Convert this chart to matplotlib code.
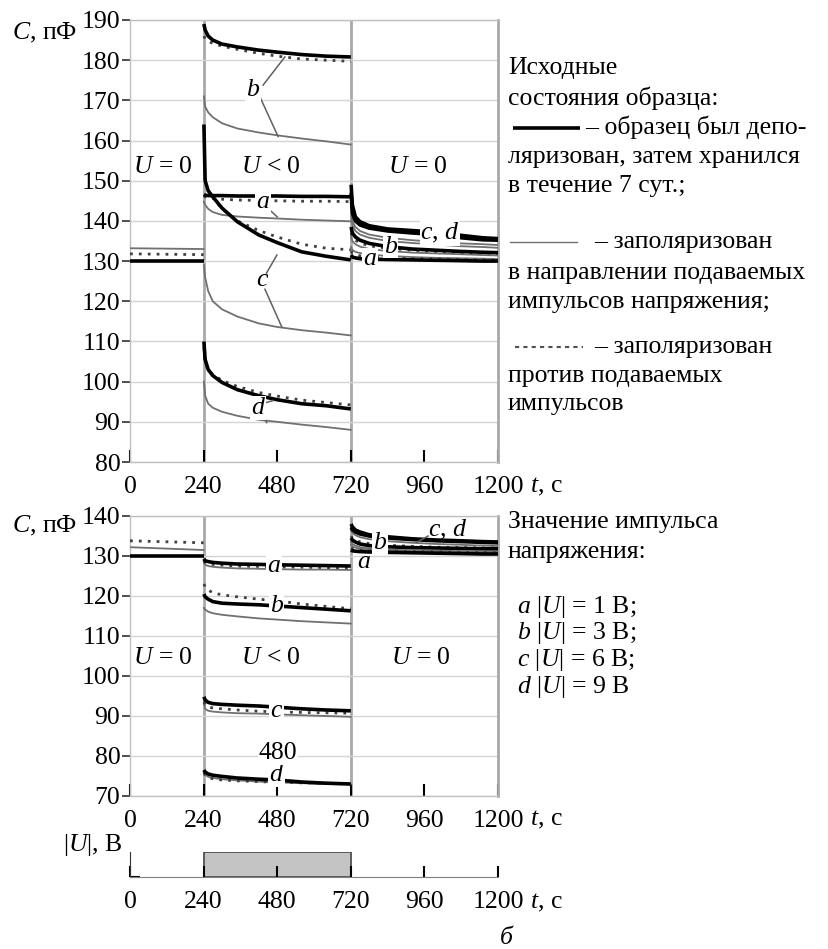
import matplotlib
matplotlib.use('Agg')
import matplotlib.pyplot as plt
from matplotlib.lines import Line2D

plt.rcParams['font.family'] = ['Liberation Serif', 'DejaVu Serif']
plt.rcParams['mathtext.fontset'] = 'custom'
plt.rcParams['mathtext.it'] = 'Liberation Serif:italic'
plt.rcParams['mathtext.rm'] = 'Liberation Serif'

'''------DATA------'''
t_pre = [0, 240]
t_on = [241, 245, 255, 270, 300, 350, 420, 480, 560, 640, 720]
t_off = [721, 725, 735, 750, 780, 840, 920, 1000, 1080, 1150, 1200]
x_ticks = [0, 240, 480, 720, 960, 1200]

# top panel (a): before pulse
top_pre = {'black': [130, 130], 'gray': [133.2, 133.0], 'dot': [131.8, 131.6]}

# top panel: during pulse (U < 0)
top_on_black = {
    'a': [146.6, 146.4, 146.3, 146.3, 146.3, 146.2, 146.2, 146.2, 146.1, 146.1, 146.0],
    'b': [189, 187.5, 186, 185, 184, 183.3, 182.5, 182, 181.4, 181, 180.8],
    'c': [164, 150, 147.5, 146, 143.2, 139.8, 136.5, 134.6, 132.3, 131.2, 130.3],
    'd': [110, 105.5, 103, 101.5, 99.8, 98, 96.5, 95.5, 94.5, 94, 93.2],
}
top_on_dot = {
    'a': [146.2, 146, 145.8, 145.6, 145.4, 145.2, 145.1, 145, 144.9, 144.9, 144.8],
    'b': [186, 185.3, 184.7, 184.2, 183.5, 182.7, 181.7, 181, 180.3, 180, 179.7],
    'c': [146.5, 146.3, 146.1, 145.8, 143, 140, 137.6, 136, 134.2, 133.2, 132.8],
    'd': [108.5, 105, 103, 101.8, 100.3, 98.8, 97.3, 96.4, 95.4, 94.8, 94.2],
}
top_on_gray = {
    'a': [144.8, 144, 143, 142.2, 141.5, 141.1, 140.8, 140.6, 140.3, 140.1, 139.9],
    'b': [171, 168.5, 167, 165.8, 164.3, 163, 162, 161.3, 160.5, 159.8, 159],
    'c': [129, 126, 122.5, 120, 118, 116.2, 114.5, 113.6, 112.8, 112.2, 111.5],
    'd': [100, 96.5, 94.5, 93.5, 92.5, 91.5, 90.5, 90, 89.3, 88.7, 88],
}
# top panel: after pulse (U = 0)
top_off_black = {
    'a': [131.5, 131, 130.8, 130.6, 130.5, 130.4, 130.3, 130.2, 130.1, 130, 130],
    'b': [138.5, 137, 136, 135.2, 134.4, 133.6, 133, 132.7, 132.4, 132.2, 132.1],
    'c': [149, 144, 141, 139.8, 138.8, 138, 137.6, 137.2, 136.4, 135.8, 135.6],
    'd': [147, 142, 140, 139, 138.2, 137.5, 137, 136.6, 135.8, 135.3, 135.2],
}
top_off_dot = {
    'a': [132.5, 132, 131.6, 131.3, 131, 130.8, 130.6, 130.5, 130.4, 130.3, 130.2],
    'b': [137, 136, 135.2, 134.5, 133.8, 133.2, 132.7, 132.4, 132.2, 132, 131.9],
}
top_off_gray = {
    'a': [133.5, 132.8, 132.3, 132, 131.6, 131.3, 131, 130.8, 130.7, 130.6, 130.5],
    'b': [136, 135, 134.2, 133.6, 133, 132.5, 132.1, 131.9, 131.7, 131.5, 131.4],
    'c': [143.5, 140, 138.5, 137.5, 136.6, 135.8, 135.2, 134.8, 134.4, 134.2, 134],
    'd': [141.5, 139, 137.5, 136.6, 135.8, 135, 134.5, 134.1, 133.7, 133.5, 133.3],
}

# bottom panel (б)
bot_pre = {'black': [130, 130], 'gray': [132.2, 131.5], 'dot': [133.8, 133.3]}
bot_on_black = {
    'a': [129.3, 128.8, 128.6, 128.4, 128.2, 128, 127.9, 127.8, 127.7, 127.6, 127.5],
    'b': [120.5, 119.8, 119.2, 118.6, 118.2, 118, 117.8, 117.5, 117.1, 116.7, 116.3],
    'c': [94.8, 94, 93.4, 93.1, 92.9, 92.7, 92.5, 92.2, 91.8, 91.5, 91.3],
    'd': [76.5, 76, 75.5, 75.2, 74.9, 74.5, 74.2, 74, 73.5, 73.2, 73],
}
bot_on_dot = {
    'a': [128.8, 128.4, 128.1, 127.9, 127.7, 127.5, 127.4, 127.3, 127.2, 127.1, 127],
    'b': [123, 122.3, 121.5, 120.8, 120.3, 119.8, 119.2, 118.8, 118, 117.4, 116.8],
    'c': [93.5, 92.8, 92.3, 92, 91.8, 91.5, 91.2, 91, 90.9, 90.8, 90.7],
    'd': [75.8, 75.2, 74.7, 74.3, 74, 73.8, 73.6, 73.4, 73.3, 73.2, 73.1],
}
bot_on_gray = {
    'a': [128.3, 127.8, 127.5, 127.3, 127.1, 126.9, 126.8, 126.7, 126.6, 126.6, 126.5],
    'b': [117, 116.6, 116.1, 115.7, 115.3, 114.9, 114.4, 114.1, 113.7, 113.4, 113.1],
    'c': [93.5, 91.8, 91.3, 91.1, 90.9, 90.7, 90.6, 90.4, 90.2, 90, 89.8],
    'd': [76, 75.3, 74.8, 74.5, 74.2, 73.9, 73.6, 73.4, 73.2, 73, 72.9],
}
bot_off_black = {
    'a': [131.5, 131.3, 131.2, 131.1, 131, 130.9, 130.8, 130.7, 130.6, 130.5, 130.5],
    'b': [134.5, 134, 133.5, 133, 132.6, 132.3, 132.1, 132, 131.9, 131.8, 131.8],
    'c': [138, 137.3, 136.5, 136, 135.3, 134.8, 134.3, 134, 133.8, 133.6, 133.5],
    'd': [137.2, 136.6, 136, 135.5, 135, 134.5, 134.1, 133.8, 133.6, 133.4, 133.3],
}
bot_off_dot = {
    'a': [132, 131.8, 131.6, 131.4, 131.3, 131.2, 131.1, 131, 130.9, 130.9, 130.8],
    'b': [135, 134.5, 134, 133.5, 133.1, 132.7, 132.4, 132.2, 132.1, 132, 132],
}
bot_off_gray = {
    'a': [132.8, 132.4, 132.1, 131.8, 131.6, 131.4, 131.2, 131.1, 131, 130.9, 130.9],
    'b': [133.5, 133, 132.6, 132.2, 131.9, 131.6, 131.4, 131.3, 131.2, 131.1, 131.1],
    'c': [136.5, 135.8, 135.2, 134.7, 134.2, 133.7, 133.3, 133, 132.8, 132.6, 132.5],
}

pulse_t = [240, 720]
pulse_h = 1

'''------STYLE------'''
FS = 18.5
W, H = 829, 949
def fx(px):
    return px / W
def fy(py):
    return 1 - py / H

black_kw = dict(color='black', lw=2.6, solid_capstyle='butt')
gray_kw = dict(color='#707070', lw=1.3)
dot_kw = dict(color='#404040', lw=2.0, linestyle=(0, (1, 2.2)))
lbl_box = dict(facecolor='white', edgecolor='none', pad=0.5)

fig = plt.figure(figsize=(W / 100, H / 100), dpi=100)


def setup_axes(ax, ylo, yhi):
    ax.set_xlim(0, 1200)
    ax.set_ylim(ylo, yhi)
    ax.set_yticks(range(ylo, yhi + 1, 10))
    ax.set_xticks(x_ticks)
    ax.grid(axis='y', color='#d4d4d4', lw=1.0)
    for s in ['left', 'top', 'bottom']:
        ax.spines[s].set_color('#c0c0c0')
        ax.spines[s].set_linewidth(1.0)
    ax.spines['right'].set_color('#a8a8a8')
    ax.spines['right'].set_linewidth(2.0)
    for xv in [240, 720]:
        ax.axvline(xv, color='#a8a8a8', lw=2.0, zorder=1)
    ax.tick_params(axis='y', direction='out', length=6, width=1.2, color='#303030',
                   labelsize=FS, pad=1)
    ax.tick_params(axis='x', direction='in', length=9, width=1.5, color='black',
                   labelsize=FS, pad=10)


def draw_curves(ax, pre, on_black, on_dot, on_gray, off_black, off_dot, off_gray):
    ax.plot(t_pre, pre['gray'], zorder=3, **gray_kw)
    ax.plot(t_pre, pre['dot'], zorder=3, **dot_kw)
    ax.plot(t_pre, pre['black'], zorder=4, **black_kw)
    for k in on_gray:
        ax.plot(t_on, on_gray[k], zorder=3, **gray_kw)
    for k in on_dot:
        ax.plot(t_on, on_dot[k], zorder=3, **dot_kw)
    for k in on_black:
        ax.plot(t_on, on_black[k], zorder=4, **black_kw)
    for k in off_gray:
        ax.plot(t_off, off_gray[k], zorder=3, **gray_kw)
    for k in off_dot:
        ax.plot(t_off, off_dot[k], zorder=3, **dot_kw)
    for k in off_black:
        ax.plot(t_off, off_black[k], zorder=4, **black_kw)


'''------TOP PANEL------'''
ax1 = fig.add_axes([fx(130), fy(462), fx(498) - fx(130), fy(20) - fy(462)])
setup_axes(ax1, 80, 190)
draw_curves(ax1, top_pre, top_on_black, top_on_dot, top_on_gray,
            top_off_black, top_off_dot, top_off_gray)

ax1.text(108, 153.5, '$U$ = 0', fontsize=FS, ha='center', va='center', bbox=lbl_box, zorder=6)
ax1.text(460, 153.5, '$U$ < 0', fontsize=FS, ha='center', va='center', zorder=6)
ax1.text(940, 153.5, '$U$ = 0', fontsize=FS, ha='center', va='center', zorder=6)

# labels with leader lines
ax1.plot([434, 505], [173.8, 180.8], color='#606060', lw=1.1, zorder=5)
ax1.plot([424, 483], [170.8, 161], color='#606060', lw=1.1, zorder=5)
ax1.text(401, 172.6, '$b$', fontsize=FS, ha='center', va='center', bbox=lbl_box, zorder=6)
ax1.plot([445, 480], [143.5, 141], color='#606060', lw=1.1, zorder=5)
ax1.text(434, 144.8, '$a$', fontsize=FS, ha='center', va='center', bbox=lbl_box, zorder=6)
ax1.plot([445, 479], [127, 131.5], color='#606060', lw=1.1, zorder=5)
ax1.plot([440, 495], [123, 113.6], color='#606060', lw=1.1, zorder=5)
ax1.text(432, 125.3, '$c$', fontsize=FS, ha='center', va='center', zorder=6)
ax1.plot([430, 467], [94.5, 95.3], color='#606060', lw=1.1, zorder=5)
ax1.plot([425, 446], [92, 89.8], color='#606060', lw=1.1, zorder=5)
ax1.text(418, 93.5, '$d$', fontsize=FS, ha='center', va='center', bbox=lbl_box, zorder=6)
ax1.text(1011, 137, '$c$, $d$', fontsize=FS, ha='center', va='center', bbox=lbl_box, zorder=6)
ax1.text(850, 133.6, '$b$', fontsize=FS, ha='center', va='center', bbox=lbl_box, zorder=6)
ax1.text(783, 130.4, '$a$', fontsize=FS, ha='center', va='center', bbox=lbl_box, zorder=6)

fig.text(fx(12), fy(33), '$C$, пФ', fontsize=FS, ha='left', va='center')
fig.text(fx(530), fy(487), '$t$, с', fontsize=FS, ha='left', va='center')

'''------BOTTOM PANEL------'''
ax2 = fig.add_axes([fx(130), fy(796), fx(498) - fx(130), fy(516) - fy(796)])
setup_axes(ax2, 70, 140)
draw_curves(ax2, bot_pre, bot_on_black, bot_on_dot, bot_on_gray,
            bot_off_black, bot_off_dot, bot_off_gray)

ax2.text(108, 104.5, '$U$ = 0', fontsize=FS, ha='center', va='center', bbox=lbl_box, zorder=6)
ax2.text(460, 104.5, '$U$ < 0', fontsize=FS, ha='center', va='center', zorder=6)
ax2.text(950, 104.5, '$U$ = 0', fontsize=FS, ha='center', va='center', zorder=6)
ax2.text(470, 127.5, '$a$', fontsize=FS, ha='center', va='center', bbox=lbl_box, zorder=6)
ax2.text(478, 117.5, '$b$', fontsize=FS, ha='center', va='center', bbox=lbl_box, zorder=6)
ax2.text(478, 91.3, '$c$', fontsize=FS, ha='center', va='center', bbox=lbl_box, zorder=6)
ax2.text(478, 75.2, '$d$', fontsize=FS, ha='center', va='center', bbox=lbl_box, zorder=6)
ax2.text(482, 80.8, '480', fontsize=FS, ha='center', va='center', bbox=lbl_box, zorder=6)
ax2.plot([972, 935], [135.0, 133.4], color='#606060', lw=1.1, zorder=5)
ax2.text(1035, 136.6, '$c$, $d$', fontsize=FS, ha='center', va='center', zorder=6)
ax2.text(815, 133.2, '$b$', fontsize=FS, ha='center', va='center', bbox=lbl_box, zorder=6)
ax2.text(762, 128.6, '$a$', fontsize=FS, ha='center', va='center', zorder=6)

fig.text(fx(12), fy(526), '$C$, пФ', fontsize=FS, ha='left', va='center')
fig.text(fx(530), fy(820), '$t$, с', fontsize=FS, ha='left', va='center')

'''------PULSE PANEL------'''
ax3 = fig.add_axes([fx(130), fy(877), fx(498) - fx(130), fy(852) - fy(877)])
ax3.bar([(pulse_t[0] + pulse_t[1]) / 2], [pulse_h], width=pulse_t[1] - pulse_t[0],
        color='#c4c4c4', edgecolor='#505050', linewidth=1.3)
ax3.set_xlim(0, 1200)
ax3.set_ylim(0, pulse_h)
ax3.set_xticks(x_ticks)
ax3.set_yticks([0])
ax3.set_yticklabels([''])
ax3.spines['top'].set_visible(False)
ax3.spines['right'].set_visible(False)
ax3.spines['bottom'].set_color('#808080')
ax3.spines['left'].set_color('#303030')
ax3.tick_params(axis='x', direction='in', length=8, width=1.5, labelsize=FS, pad=10)
ax3.tick_params(axis='y', direction='in', length=7, width=1.5)
fig.text(fx(123), fy(845), '|$U$|, В', fontsize=FS, ha='right', va='center')
fig.text(fx(530), fy(903), '$t$, с', fontsize=FS, ha='left', va='center')
fig.text(fx(507), fy(937), '$б$', fontsize=FS, ha='center', va='center')

'''------LEGEND TEXT------'''
legend_top = [
    (508, 68, 'Исходные'),
    (508, 98, 'состояния образца:'),
    (585, 127, '– образец был депо-'),
    (508, 157, 'ляризован, затем хранился'),
    (508, 186, 'в течение 7 сут.;'),
    (594, 242, '– заполяризован'),
    (508, 273, 'в направлении подаваемых'),
    (508, 302, 'импульсов напряжения;'),
    (594, 347, '– заполяризован'),
    (508, 376, 'против подаваемых'),
    (508, 404, 'импульсов'),
]
for px, py, s in legend_top:
    fig.text(fx(px), fy(py), s, fontsize=FS, ha='left', va='center')

fig.add_artist(Line2D([fx(513), fx(580)], [fy(128), fy(128)], **black_kw))
fig.add_artist(Line2D([fx(510), fx(577)], [fy(242), fy(242)], color='#707070', lw=1.0))
fig.add_artist(Line2D([fx(515), fx(583)], [fy(347), fy(347)], color='#505050', lw=1.5,
                      linestyle=(0, (2, 2))))

legend_bot = [
    (508, 522, 'Значение импульса'),
    (508, 552, 'напряжения:'),
    (517, 607, '$a$ |$U$| = 1 В;'),
    (517, 633, '$b$ |$U$| = 3 В;'),
    (517, 660, '$c$ |$U$| = 6 В;'),
    (517, 687, '$d$ |$U$| = 9 В'),
]
for px, py, s in legend_bot:
    fig.text(fx(px), fy(py), s, fontsize=FS, ha='left', va='center')

fig.savefig('out.png', dpi=100)
